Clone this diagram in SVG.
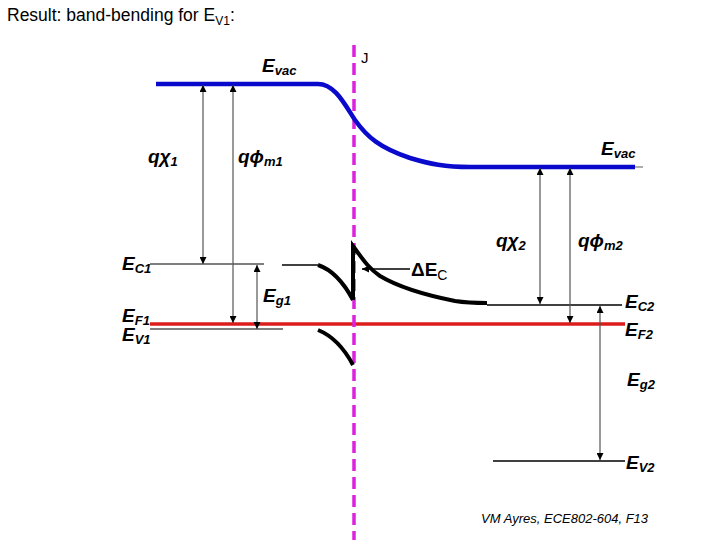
<svg xmlns="http://www.w3.org/2000/svg" width="720" height="540" viewBox="0 0 720 540">
<defs>
<marker id="ah" viewBox="0 0 8 8" refX="8" refY="4" markerWidth="7" markerHeight="7" markerUnits="userSpaceOnUse" orient="auto-start-reverse">
<path d="M0,0 L8,4 L0,8 Z" fill="#000"/>
</marker>
<style>
.lab{font-family:"Liberation Sans",Arial,sans-serif;font-weight:bold;font-style:italic;font-size:19px;fill:#000}
.sub{font-size:13px}
.dim{stroke:#555;stroke-width:1.2;fill:none}
.thin{stroke:#555;stroke-width:1.5;fill:none}
.band{stroke:#000;stroke-width:4;fill:none;stroke-linejoin:miter}
.vac{stroke:#0a0acc;stroke-width:4.5;fill:none}
</style>
</defs>
<rect width="720" height="540" fill="#fff"/>
<text x="7" y="21" font-family="Liberation Sans, Arial, sans-serif" font-size="17.5" fill="#000">Result: band-bending for E<tspan font-size="12" dy="4">V1</tspan><tspan dy="-4">:</tspan></text>

<g id="fermi">
<line x1="150" y1="324" x2="625" y2="324" stroke="#dd1c1c" stroke-width="3.5"/>
</g>

<g id="junction">
<line x1="354" y1="45" x2="354" y2="540" stroke="#dd22dd" stroke-width="3.5" stroke-dasharray="12,6"/>
<text x="361" y="63" font-family="Liberation Sans, Arial, sans-serif" font-size="15" fill="#000">J</text>
</g>

<g id="vacuum">
<path class="vac" d="M156,84 H318 C335,84 345,105 355,120 C367,137 380,148 410,158 C430,164 445,167 470,167 H635"/>
<line x1="635" y1="167" x2="643" y2="167" stroke="#777" stroke-width="1.2"/>
</g>

<g id="bands-left">
<line class="thin" x1="150" y1="264" x2="264" y2="264"/>
<line class="thin" x1="150" y1="329" x2="283" y2="329"/>
<line stroke="#000" stroke-width="1.3" x1="282" y1="265" x2="318" y2="265"/>
<path class="band" d="M318,265 C333,270 345,285 353,300"/>
<path class="band" d="M318,330 C333,336 345,350 353,365"/>
</g>

<g id="bands-right">
<path class="band" d="M353,300 V246 C362,258 368,268 380,276 C400,288 430,296 455,301 C468,303 478,303 487,303"/>
<line stroke="#000" stroke-width="1.3" x1="487" y1="305" x2="622" y2="305"/>
<line stroke="#000" stroke-width="1.3" x1="493" y1="461" x2="625" y2="461"/>
</g>

<g id="connectors">
<line class="dim" x1="203" y1="85" x2="203" y2="264" marker-start="url(#ah)" marker-end="url(#ah)"/>
<line class="dim" x1="233" y1="85" x2="233" y2="323" marker-start="url(#ah)" marker-end="url(#ah)"/>
<line class="dim" x1="257" y1="265" x2="257" y2="329" marker-start="url(#ah)" marker-end="url(#ah)"/>
<line class="dim" x1="540" y1="168" x2="540" y2="304" marker-start="url(#ah)" marker-end="url(#ah)"/>
<line class="dim" x1="570" y1="168" x2="570" y2="323" marker-start="url(#ah)" marker-end="url(#ah)"/>
<line class="dim" x1="600" y1="306" x2="600" y2="460" marker-start="url(#ah)" marker-end="url(#ah)"/>
<line stroke="#000" stroke-width="1.3" x1="410" y1="269" x2="362" y2="269" marker-end="url(#ah)"/>
</g>

<g id="labels">
<text class="lab" x="262" y="72">E<tspan class="sub" dy="3">vac</tspan></text>
<text class="lab" x="601" y="155">E<tspan class="sub" dy="3">vac</tspan></text>
<text class="lab" x="148" y="163">qχ<tspan class="sub" dy="3">1</tspan></text>
<text class="lab" x="238" y="163">qϕ<tspan class="sub" dy="3">m1</tspan></text>
<text class="lab" x="496" y="247">qχ<tspan class="sub" dy="3">2</tspan></text>
<text class="lab" x="578" y="247">qϕ<tspan class="sub" dy="3">m2</tspan></text>
<text class="lab" x="122" y="270">E<tspan class="sub" dy="3">C1</tspan></text>
<text class="lab" x="263" y="302">E<tspan class="sub" dy="3">g1</tspan></text>
<text class="lab" x="122" y="322">E<tspan class="sub" dy="3">F1</tspan></text>
<text class="lab" x="122" y="341">E<tspan class="sub" dy="3">V1</tspan></text>
<text class="lab" x="625" y="308">E<tspan class="sub" dy="3">C2</tspan></text>
<text class="lab" x="625" y="336">E<tspan class="sub" dy="3">F2</tspan></text>
<text class="lab" x="627" y="386">E<tspan class="sub" dy="3">g2</tspan></text>
<text class="lab" x="626" y="469">E<tspan class="sub" dy="3">V2</tspan></text>
<text x="411" y="276" font-family="Liberation Sans, Arial, sans-serif" font-weight="bold" font-size="19" fill="#000">ΔE<tspan font-weight="normal" font-size="14" dy="4">C</tspan></text>
<text x="481" y="523" font-family="Liberation Sans, Arial, sans-serif" font-style="italic" font-size="13" fill="#000">VM Ayres, ECE802-604, F13</text>
</g>
</svg>
